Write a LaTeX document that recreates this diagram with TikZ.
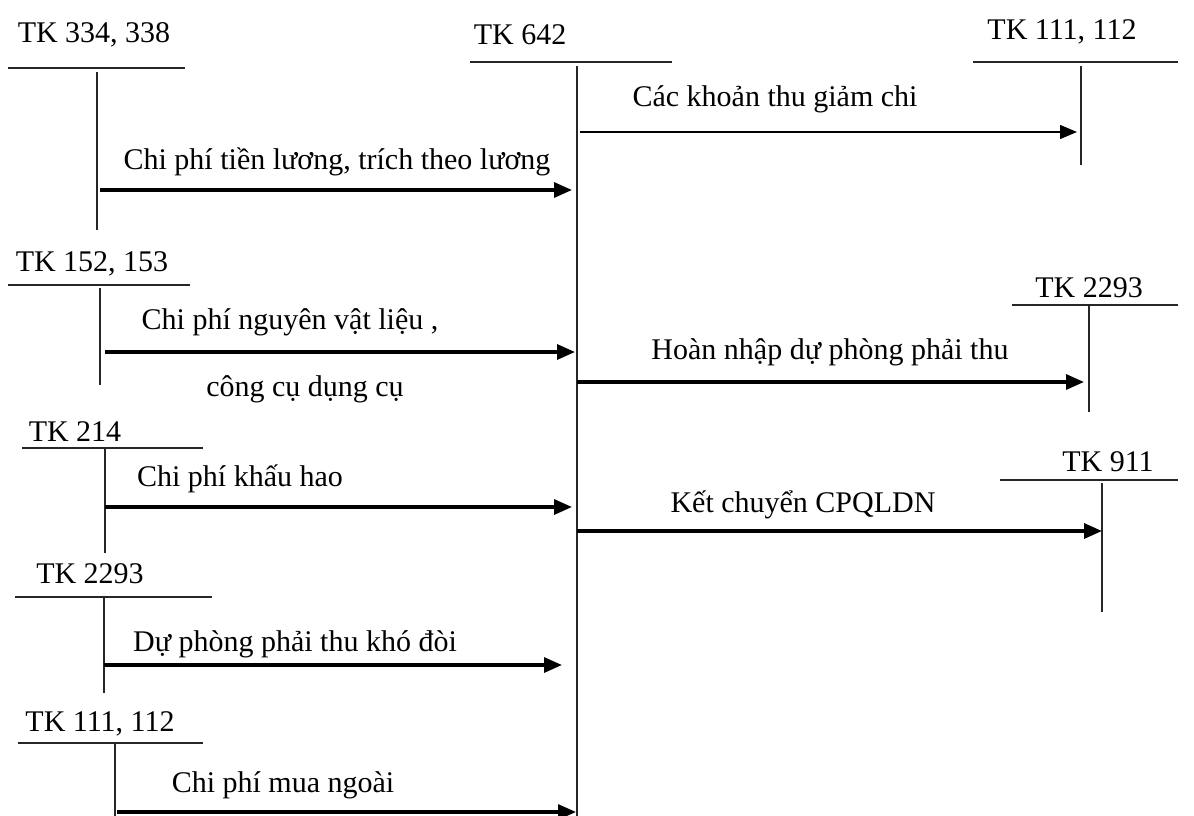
\documentclass[tikz,border=0pt]{standalone}
\usepackage{fontspec}
\setmainfont{Liberation Serif}
\usetikzlibrary{arrows.meta}
\begin{document}
\begin{tikzpicture}[x=1pt,y=-1pt,
  txt/.style={font=\fontsize{30}{35}\selectfont, inner sep=0pt},
  tline/.style={line width=1.3pt, draw=black!85},
  flow/.style={line width=3.2pt, -{Triangle[length=18pt,width=15pt]}},
  thinflow/.style={line width=1.4pt, -{Triangle[length=17pt,width=14pt]}}]
\useasboundingbox (0,0) rectangle (1194,816);

% ---- central account TK 642
\node[txt] (k642) at (520,35) {TK 642};
\draw[tline] (470,62) -- (672,62);
\draw[tline] (577,66) -- (577,816);

% ---- debit side accounts (left)
\node[txt] (k334) at (94,35) {TK 334, 338};
\draw[tline] (8,68) -- (185,68);
\draw[tline] (97,72) -- (97,230);

\node[txt] (k152) at (92,264) {TK 152, 153};
\draw[tline] (8,285) -- (190,285);
\draw[tline] (100,288) -- (100,385);

\node[txt] (k214) at (75,432) {TK 214};
\draw[tline] (22,448) -- (203,448);
\draw[tline] (105,448) -- (105,553);

\node[txt] (k2293a) at (90,574) {TK 2293};
\draw[tline] (15,597) -- (212,597);
\draw[tline] (104,597) -- (104,693);

\node[txt] (k111a) at (100,724) {TK 111, 112};
\draw[tline] (18,743) -- (203,743);
\draw[tline] (115,743) -- (115,816);

% ---- credit side accounts (right)
\node[txt] (k111b) at (1062,32) {TK 111, 112};
\draw[tline] (973,62) -- (1178,62);
\draw[tline] (1081,66) -- (1081,165);

\node[txt] (k2293b) at (1089,288) {TK 2293};
\draw[tline] (1012,305) -- (1178,305);
\draw[tline] (1089,305) -- (1089,412);

\node[txt] (k911) at (1108,462) {TK 911};
\draw[tline] (1000,480) -- (1178,480);
\draw[tline] (1102,483) -- (1102,612);

% ---- connector end points
\coordinate (s1) at (100,190);  \coordinate (e1) at (572,190);
\coordinate (s2) at (105,352);  \coordinate (e2) at (575,352);
\coordinate (s3) at (105,507);  \coordinate (e3) at (572,507);
\coordinate (s4) at (104,665);  \coordinate (e4) at (562,665);
\coordinate (s5) at (117,812);  \coordinate (e5) at (576,812);
\coordinate (r1) at (580,132);  \coordinate (f1) at (1077,132);
\coordinate (r2) at (577,382);  \coordinate (f2) at (1084,382);
\coordinate (r3) at (577,531);  \coordinate (f3) at (1102,531);

% ---- flows into TK 642
\draw[flow] (s1) -- (e1);
\node[txt] (l1) at (337,162) {Chi phí tiền lương, trích theo lương};
\draw[flow] (s2) -- (e2);
\node[txt] (l2a) at (290,322) {Chi phí nguyên vật liệu ,};
\node[txt] (l2b) at (305,389) {công cụ dụng cụ};
\draw[flow] (s3) -- (e3);
\node[txt] (l3) at (240,479) {Chi phí khấu hao};
\draw[flow] (s4) -- (e4);
\node[txt] (l4) at (295,644) {Dự phòng phải thu khó đòi};
\draw[flow] (s5) -- (e5);
\node[txt] (l5) at (283,785) {Chi phí mua ngoài};

% ---- flows out of TK 642
\draw[thinflow] (r1) -- (f1);
\draw[line width=2.6pt] (r1) -- ++(16,0);
\node[txt] (m1) at (775,99) {Các khoản thu giảm chi};
\draw[flow] (r2) -- (f2);
\node[txt] (m2) at (830,352) {Hoàn nhập dự phòng phải thu};
\draw[flow] (r3) -- (f3);
\node[txt] (m3) at (803,505) {Kết chuyển CPQLDN};
\end{tikzpicture}
\end{document}
